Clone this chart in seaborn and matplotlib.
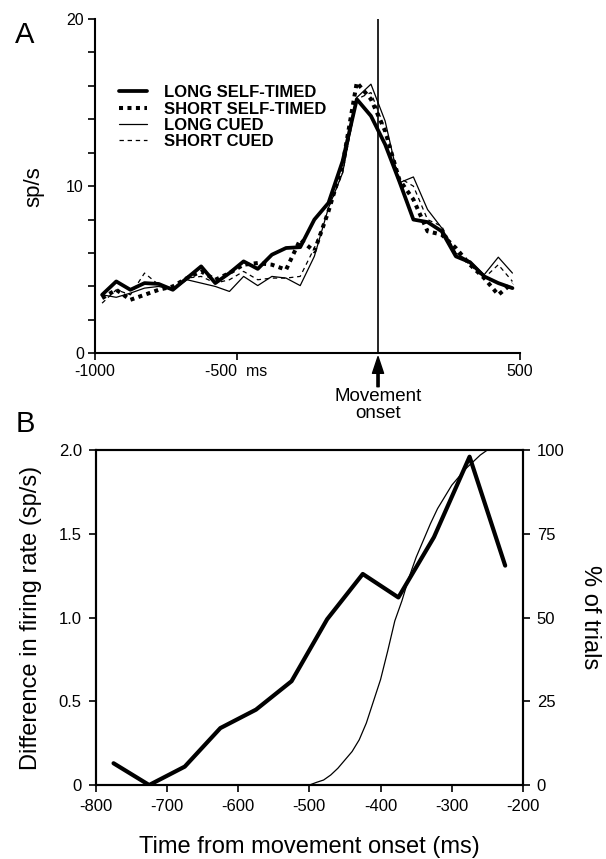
import matplotlib
matplotlib.use("Agg")
import matplotlib.pyplot as plt
import seaborn as sns

# ---------------- data ----------------
# Panel A: firing rate (sp/s), 50 ms bins, centred -975 ... 475 ms
t_ms = list(range(-975, 500, 50))
long_self = [3.5, 4.3, 3.8, 4.2, 4.15, 3.8, 4.5, 5.2, 4.2, 4.8,
             5.5, 5.05, 5.9, 6.3, 6.35, 8.0, 9.0, 11.5, 15.2, 14.2,
             12.5, 10.3, 8.0, 7.85, 7.3, 5.8, 5.45, 4.6, 4.2, 3.9]
short_self = [3.3, 3.8, 3.2, 3.5, 3.8, 4.0, 4.5, 4.9, 4.4, 4.8,
              5.3, 5.4, 5.3, 5.0, 6.8, 6.1, 8.5, 11.3, 16.2, 15.2,
              13.3, 10.4, 9.2, 7.3, 7.1, 6.3, 5.3, 4.5, 3.5, 4.2]
long_cued = [3.5, 3.35, 3.6, 3.9, 4.0, 3.8, 4.4, 4.2, 4.0, 3.7,
             4.6, 4.05, 4.6, 4.5, 4.05, 5.8, 8.7, 10.8, 15.3, 16.1,
             13.9, 10.2, 10.55, 8.6, 7.5, 6.0, 5.5, 4.7, 5.75, 4.8]
short_cued = [3.0, 3.8, 3.5, 4.8, 4.1, 3.9, 4.5, 4.6, 4.2, 4.4,
              4.9, 4.4, 4.5, 4.5, 4.6, 6.3, 8.6, 10.8, 15.2, 15.6,
              13.4, 10.5, 10.0, 8.0, 7.6, 6.0, 5.3, 4.5, 5.3, 4.3]
labels_A = ["LONG SELF-TIMED", "SHORT SELF-TIMED", "LONG CUED", "SHORT CUED"]

# Panel B: difference in firing rate and cumulative % of trials
t_diff = [-775, -725, -675, -625, -575, -525, -475, -425, -375, -325, -275, -225]
diff_rate = [0.13, 0.0, 0.11, 0.34, 0.45, 0.62, 0.99, 1.26, 1.12, 1.48, 1.96, 1.31]
t_pct = [-500, -490, -480, -470, -460, -450, -440, -430, -420, -410, -400, -390, -380,
         -370, -360, -350, -340, -330, -320, -310, -300, -290, -280, -270, -260, -250]
pct_trials = [0, 0.8, 1.5, 3, 5, 7.5, 10, 13.5, 18.5, 25, 31.5, 40, 49,
              55, 62, 68, 73, 78, 82.5, 86, 89.5, 92, 94.5, 96.5, 98.5, 100]

# ---------------- style ----------------
sns.set_style("ticks", {"axes.edgecolor": "black", "text.color": "black",
                        "axes.labelcolor": "black", "xtick.color": "black",
                        "ytick.color": "black"})
plt.rcParams['font.family'] = ['Liberation Sans', 'DejaVu Sans']

fig = plt.figure(figsize=(6.06, 8.59), dpi=100)

# ---------------- panel A ----------------
axA = fig.add_axes([0.1568, 0.5887, 0.7005, 0.3892])
styles = [dict(lw=2.7, ls="-"),
          dict(lw=2.9, ls=(0, (1, 1.1)), dash_capstyle="butt"),
          dict(lw=0.9, ls="-"),
          dict(lw=0.9, ls=(0, (3.5, 3)))]
for vals, lab, st in zip([long_self, short_self, long_cued, short_cued], labels_A, styles):
    sns.lineplot(x=t_ms, y=vals, ax=axA, color="black", label=lab, **st)

axA.axvline(0, ymin=0, ymax=1, color="black", lw=1.2)
axA.set_xlim(-1000, 500)
axA.set_ylim(0, 20)
sns.despine(ax=axA)
for s in ["left", "bottom"]:
    axA.spines[s].set_linewidth(1.5)
axA.set_yticks([0, 10, 20])
axA.set_yticks(range(0, 21, 2), minor=True)
axA.set_xticks([-1000, -500, 500])
axA.set_xticklabels(["-1000", "-500  ms", "500"])
axA.tick_params(axis="both", which="both", direction="out", length=5, width=1.2,
                labelsize=11.5, pad=3)
axA.set_xlabel("")
axA.set_ylabel("sp/s", fontsize=16, labelpad=16)

leg = axA.legend(loc="upper left", bbox_to_anchor=(0.056, 0.802), frameon=False,
                 borderpad=0, borderaxespad=0, handlelength=1.7, handletextpad=1.0,
                 labelspacing=0.08, prop={"weight": "bold", "size": 12})

# arrow + movement onset
axA.annotate("", xy=(0, -0.2), xytext=(0, -2.0), xycoords="data",
             arrowprops=dict(facecolor="black", edgecolor="black", width=1.6,
                             headwidth=8, headlength=12, shrink=0),
             annotation_clip=False)
axA.text(0, -2.1, "Movement\nonset", ha="center", va="top", fontsize=13.5,
         linespacing=1.0)

fig.text(0.025, 0.975, "A", fontsize=21, ha="left", va="top")

# ---------------- panel B ----------------
axB = fig.add_axes([0.158, 0.0861, 0.705, 0.39])
sns.lineplot(x=t_diff, y=diff_rate, ax=axB, color="black", lw=3.0)
axB.set_xlim(-800, -200)
axB.set_ylim(0, 2.0)
axB.set_xticks(range(-800, -199, 100))
axB.set_xticklabels([str(v) for v in range(-800, -199, 100)])
axB.set_yticks([0, 0.5, 1.0, 1.5, 2.0])
axB.set_yticklabels(["0", "0.5", "1.0", "1.5", "2.0"])
axB.tick_params(axis="both", direction="out", length=5, width=1.2, labelsize=12, pad=5)
axB.set_xlabel("Time from movement onset (ms)", fontsize=17, labelpad=16)
axB.set_ylabel("Difference in firing rate (sp/s)", fontsize=17, labelpad=12)

ax2 = axB.twinx()
sns.lineplot(x=t_pct, y=pct_trials, ax=ax2, color="black", lw=0.9)
ax2.set_ylim(0, 100)
ax2.set_yticks([0, 25, 50, 75, 100])
ax2.tick_params(axis="y", direction="out", length=5, width=1.2, labelsize=12, pad=5)
ax2.set_ylabel("% of trials", fontsize=17, rotation=270, labelpad=26)
for a in (axB, ax2):
    for s in a.spines.values():
        s.set_linewidth(1.5)

fig.text(0.025, 0.523, "B", fontsize=21, ha="left", va="top")

fig.savefig("out.png", dpi=100)
plt.close(fig)
